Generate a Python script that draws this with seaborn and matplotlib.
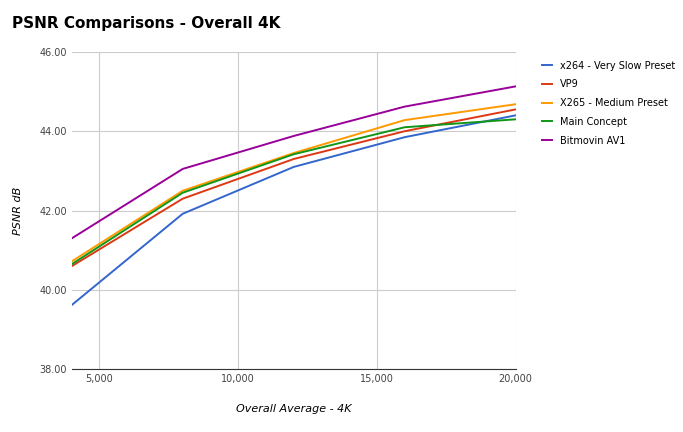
import pandas as pd
import matplotlib.pyplot as plt
import seaborn as sns

bitrate = [4000, 8000, 12000, 16000, 20000]
x264 = [39.62, 41.92, 43.10, 43.85, 44.40]
vp9 = [40.60, 42.30, 43.30, 44.00, 44.55]
x265 = [40.72, 42.50, 43.45, 44.28, 44.68]
main_concept = [40.65, 42.45, 43.42, 44.10, 44.30]
av1 = [41.30, 43.05, 43.88, 44.62, 45.13]

series = {
    "x264 - Very Slow Preset": x264,
    "VP9": vp9,
    "X265 - Medium Preset": x265,
    "Main Concept": main_concept,
    "Bitmovin AV1": av1,
}
colors = ["#3366cc", "#dc3912", "#ff9900", "#109618", "#990099"]

rows = []
for name, vals in series.items():
    for b, v in zip(bitrate, vals):
        rows.append({"bitrate": b, "psnr": v, "codec": name})
df = pd.DataFrame(rows)

fig = plt.figure(figsize=(6.83, 4.32), dpi=100)
ax = fig.add_axes([0.105, 0.145, 0.65, 0.735])
sns.lineplot(data=df, x="bitrate", y="psnr", hue="codec", palette=colors, ax=ax, linewidth=1.4)

ax.set_xlim(4000, 20000)
ax.set_ylim(38, 46)
ax.set_xticks([5000, 10000, 15000, 20000])
ax.set_xticklabels(["5,000", "10,000", "15,000", "20,000"], fontsize=7, color="#444444")
ax.set_yticks([38, 40, 42, 44, 46])
ax.set_yticklabels(["38.00", "40.00", "42.00", "44.00", "46.00"], fontsize=7, color="#444444")
ax.grid(True, color="#cccccc", linewidth=0.8)
ax.tick_params(length=0)
for s in ax.spines.values():
    s.set_visible(False)
ax.spines["bottom"].set_visible(True)
ax.spines["bottom"].set_color("#333333")
ax.set_xlabel("Overall Average - 4K", fontsize=8, style="italic", labelpad=14)
ax.set_ylabel("PSNR dB", fontsize=8, style="italic", labelpad=12)

ax.legend(loc="upper left", bbox_to_anchor=(1.04, 1.0), frameon=False, fontsize=7,
          handlelength=1.0, labelspacing=0.9)
fig.text(0.018, 0.935, "PSNR Comparisons - Overall 4K", fontsize=11, fontweight="bold")

fig.savefig("out.png", dpi=100)
